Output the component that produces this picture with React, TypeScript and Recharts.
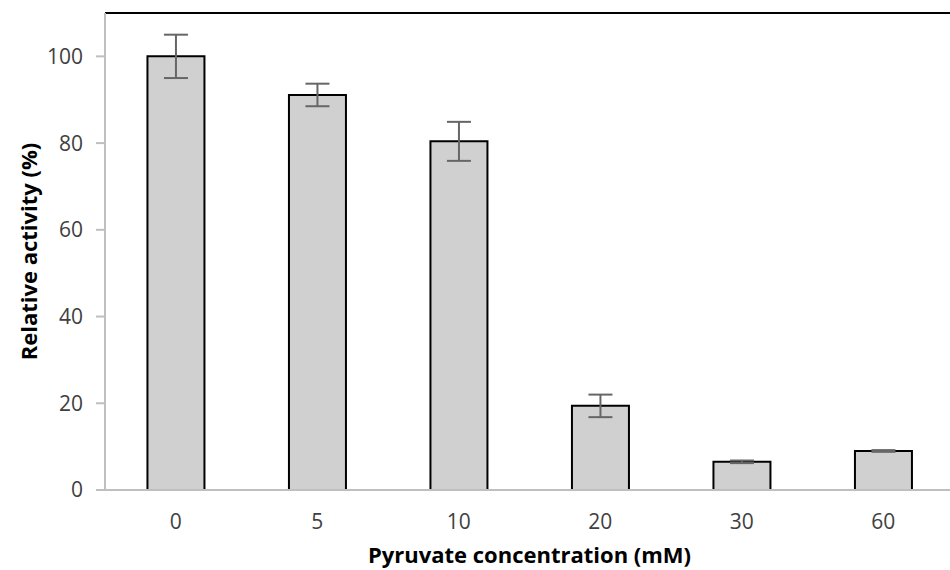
import React from "react";
import { ComposedChart, Bar, XAxis, YAxis, ErrorBar, ReferenceLine, Label } from "recharts";

const categories = ["0", "5", "10", "20", "30", "60"];
const activity = [100, 91.1, 80.4, 19.4, 6.5, 9.0];
const errors = [5.0, 2.6, 4.5, 2.6, 0.3, 0.2];
const yTicks = [0, 20, 40, 60, 80, 100];

const data = categories.map((c, i) => ({ name: c, value: activity[i], err: errors[i] }));

const FONT = "'Open Sans', 'Liberation Sans', sans-serif";

export default function App() {
  return (
    <div style={{ position: "fixed", left: 0, top: 0, width: 950, height: 570, overflow: "hidden", background: "#fff" }}>
      <ComposedChart
        width={970}
        height={570}
        data={data}
        margin={{ top: 13, right: 16, left: 0, bottom: 0 }}
        barCategoryGap="30%"
      >
        <XAxis
          dataKey="name"
          height={80}
          tickLine={false}
          axisLine={{ stroke: "#bfbfbf", strokeWidth: 2 }}
          tick={{ fill: "#404040", fontSize: 21, fontFamily: FONT }}
          tickMargin={18}
        >
          <Label
            value="Pyruvate concentration (mM)"
            position="insideBottom"
            offset={7}
            style={{ fill: "#000", fontSize: 22, fontWeight: 700, fontFamily: FONT }}
          />
        </XAxis>
        <YAxis
          width={105}
          domain={[0, 110]}
          ticks={yTicks}
          tickSize={9}
          tickMargin={13}
          tickLine={{ stroke: "#bfbfbf", strokeWidth: 2 }}
          axisLine={{ stroke: "#bfbfbf", strokeWidth: 2 }}
          tick={{ fill: "#404040", fontSize: 21, fontFamily: FONT }}
          allowDataOverflow
        >
          <Label
            value="Relative activity (%)"
            angle={-90}
            position="insideLeft"
            offset={29}
            style={{ fill: "#000", fontSize: 22, fontWeight: 700, fontFamily: FONT, textAnchor: "middle" }}
          />
        </YAxis>
        <ReferenceLine y={110} stroke="#000" strokeWidth={2} ifOverflow="extendDomain" />
        <Bar dataKey="value" fill="#d0d0d0" stroke="#000" strokeWidth={2} isAnimationActive={false}>
          <ErrorBar dataKey="err" width={12} stroke="#666" strokeWidth={2} direction="y" />
        </Bar>
      </ComposedChart>
    </div>
  );
}
